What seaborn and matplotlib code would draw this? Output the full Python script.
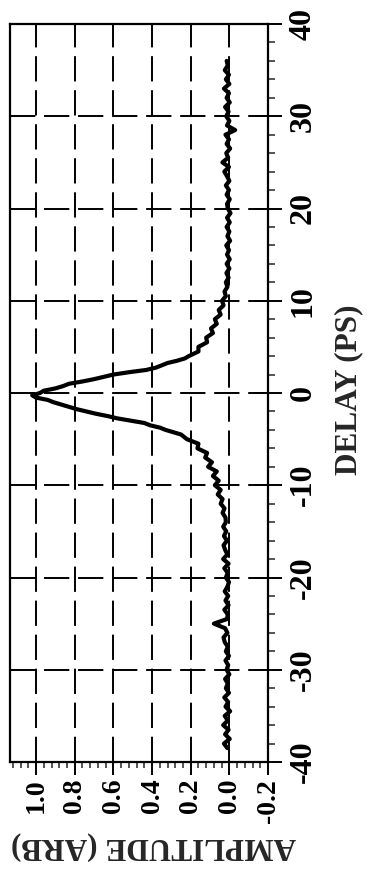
import matplotlib
matplotlib.use("Agg")
import matplotlib.pyplot as plt
from matplotlib.ticker import MultipleLocator, FixedLocator
import seaborn as sns
import pandas as pd

# ---------------- data ----------------
delay_ps = [
    -38.5, -38.0, -37.5, -37.0, -36.5, -36.0, -35.5, -35.0, -34.5, -34.0,
    -33.5, -33.0, -32.5, -32.0, -31.5, -31.0, -30.5, -30.0, -29.5, -29.0,
    -28.5, -28.0, -27.5, -27.0, -26.5, -26.0, -25.5, -25.0, -24.5, -24.0,
    -23.5, -23.0, -22.5, -22.0, -21.5, -21.0, -20.5, -20.0, -19.5, -19.0,
    -18.5, -18.0, -17.5, -17.0, -16.5, -16.0, -15.5, -15.0, -14.5, -14.0,
    -13.5, -13.0, -12.5, -12.0, -11.5, -11.0, -10.5, -10.0, -9.5, -9.0,
    -8.5, -8.0, -7.5, -7.0, -6.5, -6.0, -5.5, -5.0, -4.5, -4.0,
    -3.75, -3.5, -3.25, -3.0, -2.75, -2.5, -2.25, -2.0, -1.75, -1.5,
    -1.25, -1.0, -0.75, -0.5, -0.25, 0.0, 0.25, 0.5, 0.75, 1.0,
    1.25, 1.5, 1.75, 2.0, 2.25, 2.5, 2.75, 3.0, 3.25, 3.5,
    3.75, 4.0, 4.5, 5.0, 5.5, 6.0, 6.5, 7.0, 7.5, 8.0,
    8.5, 9.0, 9.5, 10.0, 10.5, 11.0, 11.5, 12.0, 12.5, 13.0,
    13.5, 14.0, 14.5, 15.0, 15.5, 16.0, 16.5, 17.0, 17.5, 18.0,
    18.5, 19.0, 19.5, 20.0, 20.5, 21.0, 21.5, 22.0, 22.5, 23.0,
    23.5, 24.0, 24.5, 25.0, 25.5, 26.0, 26.5, 27.0, 27.5, 28.0,
    28.5, 29.0, 29.5, 30.0, 30.5, 31.0, 31.5, 32.0, 32.5, 33.0,
    33.5, 34.0, 34.5, 35.0, 35.5, 36.0,
]
amplitude = [
    0.010, 0.028, -0.002, 0.022, 0.004, 0.032, 0.008, 0.024, -0.004, 0.020,
    0.006, 0.026, 0.002, 0.018, 0.008, 0.022, 0.000, 0.014, 0.006, 0.020,
    0.002, 0.018, 0.008, 0.024, 0.030, 0.010, 0.022, 0.080, 0.012, 0.008,
    0.026, 0.004, 0.020, 0.006, 0.024, 0.010, 0.002, 0.018, 0.008, 0.026,
    0.004, 0.032, 0.010, 0.022, 0.030, 0.012, 0.028, 0.016, 0.032, 0.018,
    0.020, 0.035, 0.025, 0.045, 0.035, 0.060, 0.045, 0.075, 0.055, 0.085,
    0.065, 0.110, 0.090, 0.125, 0.115, 0.165, 0.160, 0.220, 0.250, 0.330,
    0.360, 0.410, 0.440, 0.510, 0.580, 0.630, 0.690, 0.740, 0.790, 0.830,
    0.870, 0.910, 0.940, 1.000, 1.020, 0.980, 0.960, 0.900, 0.860, 0.830,
    0.760, 0.700, 0.650, 0.600, 0.520, 0.430, 0.380, 0.350, 0.320, 0.270,
    0.230, 0.210, 0.160, 0.160, 0.115, 0.120, 0.085, 0.095, 0.065, 0.075,
    0.045, 0.055, 0.030, 0.038, 0.018, 0.025, 0.010, 0.018, 0.004, 0.015,
    0.000, 0.014, -0.002, 0.012, 0.002, 0.016, -0.004, 0.010, 0.000, 0.014,
    -0.002, 0.012, -0.006, 0.008, 0.012, -0.002, 0.014, 0.002, 0.018, 0.000,
    0.012, 0.026, 0.002, 0.036, 0.006, 0.016, -0.004, 0.014, 0.002, 0.020,
    -0.030, 0.012, 0.000, 0.016, 0.004, 0.022, -0.002, 0.014, 0.002, 0.028,
    0.000, 0.018, 0.002, 0.024, 0.008, 0.014,
]
amp_ticks = [1.0, 0.8, 0.6, 0.4, 0.2, 0.0, -0.2]
amp_tick_labels = ["1.0", "0.8", "0.6", "0.4", "0.2", "0.0", "-0.2"]
delay_ticks = [-40, -30, -20, -10, 0, 10, 20, 30, 40]
delay_tick_labels = ["-40", "-30", "-20", "-10", "0", "10", "20", "30", "40"]
x_label = "AMPLITUDE (ARB)"
y_label = "DELAY (PS)"

# ---------------- style ----------------
sns.set_style("white")
plt.rcParams["font.family"] = ["Liberation Serif", "DejaVu Serif"]
plt.rcParams["font.weight"] = "bold"

W, H = 368, 869
fig = plt.figure(figsize=(W / 100, H / 100), dpi=100)
ax = fig.add_axes([10 / W, (H - 762) / H, (268 - 10) / W, (762 - 24) / H])

df = pd.DataFrame({"amp": amplitude, "delay": delay_ps})
sns.lineplot(data=df, x="amp", y="delay", sort=False, estimator=None,
             color="black", linewidth=3.0, ax=ax)

ax.set_xlim(1.135, -0.2)
ax.set_ylim(-40, 40)

# grid
ax.xaxis.set_major_locator(FixedLocator(amp_ticks))
ax.yaxis.set_major_locator(FixedLocator(delay_ticks))
ax.xaxis.set_minor_locator(MultipleLocator(0.04))
ax.yaxis.set_minor_locator(MultipleLocator(2))
ax.grid(True, which="major", color="black", linewidth=1.4,
        linestyle=(0, (13, 4.5)))
ax.set_axisbelow(True)

for s in ax.spines.values():
    s.set_visible(True)
    s.set_color("black")
    s.set_linewidth(1.6)

# ticks
ax.yaxis.tick_right()
ax.yaxis.set_label_position("right")
ax.tick_params(axis="x", which="major", direction="out", length=9, width=1.4,
               pad=3, bottom=True, top=False, colors="black")
ax.tick_params(axis="x", which="minor", direction="out", length=4, width=1.1,
               bottom=True, top=False)
ax.tick_params(axis="y", which="major", direction="inout", length=20, width=1.4,
               pad=5, right=True, left=False, colors="black")
ax.tick_params(axis="y", which="minor", direction="out", length=5, width=1.1,
               right=True, left=False)

ax.set_xticks(amp_ticks)
ax.set_xticklabels(amp_tick_labels, rotation=90, fontsize=20,
                   fontweight="bold", va="top", ha="center")
ax.set_yticks(delay_ticks)
ax.set_yticklabels(delay_tick_labels, rotation=90, fontsize=23,
                   fontweight="bold", va="center", ha="left")

ax.set_xlabel("")
ax.set_ylabel("")
fig.text(153 / W, 1 - 846 / H, x_label, rotation=180, fontsize=22.5,
         fontweight="bold", ha="center", va="center")
fig.text(349 / W, 1 - 390 / H, y_label, rotation=90, fontsize=22.5,
         fontweight="bold", ha="center", va="center")

fig.savefig("out.png", dpi=100, facecolor="white")
